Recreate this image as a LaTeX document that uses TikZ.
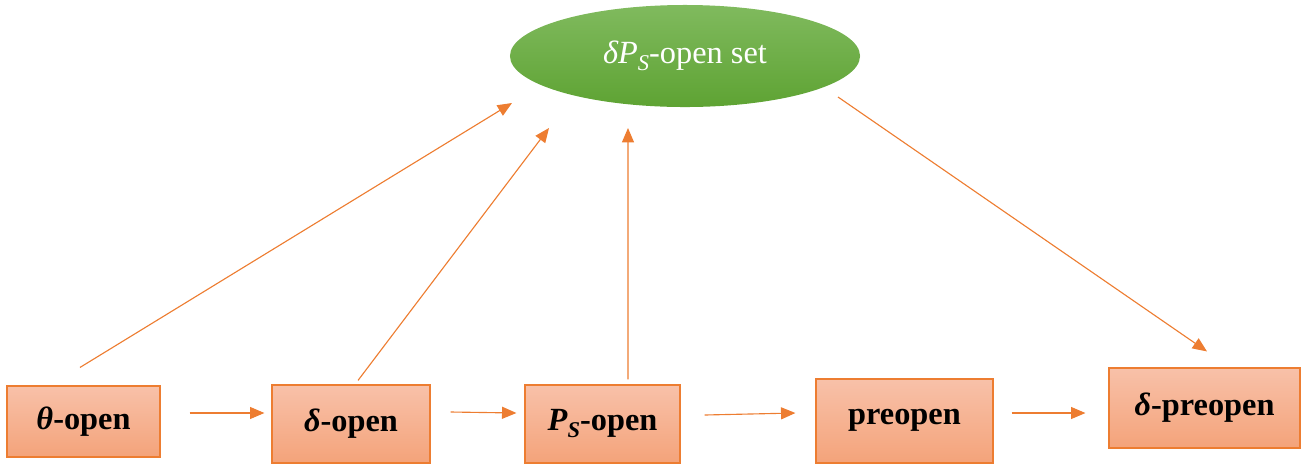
\documentclass[tikz,border=0pt]{standalone}
\usepackage{fontspec}
\setmainfont{Liberation Serif}
\usetikzlibrary{shapes.geometric,arrows.meta}
\definecolor{lineorange}{HTML}{ED7D31}
\definecolor{boxtop}{HTML}{F8C1A9}
\definecolor{boxbot}{HTML}{F4A37A}
\definecolor{settop}{HTML}{80BA5E}
\definecolor{setbot}{HTML}{5EA333}
\begin{document}
\begin{tikzpicture}[x=0.025cm, y=-0.025cm,
  openbox/.style={draw=lineorange, line width=0.8pt, top color=boxtop, bottom color=boxbot, inner sep=0pt, font=\fontsize{23}{27}\selectfont\bfseries},
  implies/.style={draw=lineorange, line width=0.8pt, -{Triangle[length=0.36cm, width=0.3cm]}}]
\useasboundingbox (0,0) rectangle (1306,463);
\node[ellipse, top color=settop, bottom color=setbot, minimum width=8.75cm, minimum height=2.55cm, inner sep=0pt, text=white, font=\fontsize{23}{27}\selectfont] (set) at (685,56) {\raisebox{0.5ex}{\textit{δP}\raisebox{-0.45ex}{\fontsize{16}{19}\selectfont\itshape S}-open set}};
\node[openbox, minimum width=3.825cm, minimum height=1.775cm] (theta) at (83.5,421.5) {\raisebox{0.3ex}{\textit{θ}-open}};
\node[openbox, minimum width=3.95cm, minimum height=1.95cm] (delta) at (351,424) {\raisebox{0.5ex}{\textit{δ}-open}};
\node[openbox, minimum width=3.875cm, minimum height=1.95cm] (ps) at (602.5,424) {\raisebox{0.5ex}{\textit{P}\raisebox{-0.45ex}{\fontsize{16}{19}\selectfont\itshape S}-open}};
\node[openbox, minimum width=4.425cm, minimum height=2.1cm] (pre) at (904.5,421) {\raisebox{0.6ex}{preopen}};
\node[openbox, minimum width=4.775cm, minimum height=2cm] (dpre) at (1204.5,408) {\raisebox{0.3ex}{\textit{δ}-preopen}};
\path[implies] ([shift={(-3.5,-18)}]theta.north) -- ([shift={(-173,47)}]set.center);
\path[implies] ([shift={(7,-4)}]delta.north) -- ([shift={(-136,72)}]set.center);
\path[implies] ([shift={(25.5,-5)}]ps.north) -- ([shift={(-57,72)}]set.center);
\path[implies] ([shift={(153,41)}]set.center) -- ([shift={(2.5,-16)}]dpre.north);
\path[implies] ([shift={(29,-8.5)}]theta.east) -- ([shift={(-7,-11)}]delta.west);
\path[implies] ([shift={(20,-12)}]delta.east) -- ([shift={(-8,-11)}]ps.west);
\path[implies] ([shift={(24,-9)}]ps.east) -- ([shift={(-20,-8)}]pre.west);
\path[implies] ([shift={(18,-8)}]pre.east) -- ([shift={(-23,5)}]dpre.west);
\end{tikzpicture}
\end{document}
